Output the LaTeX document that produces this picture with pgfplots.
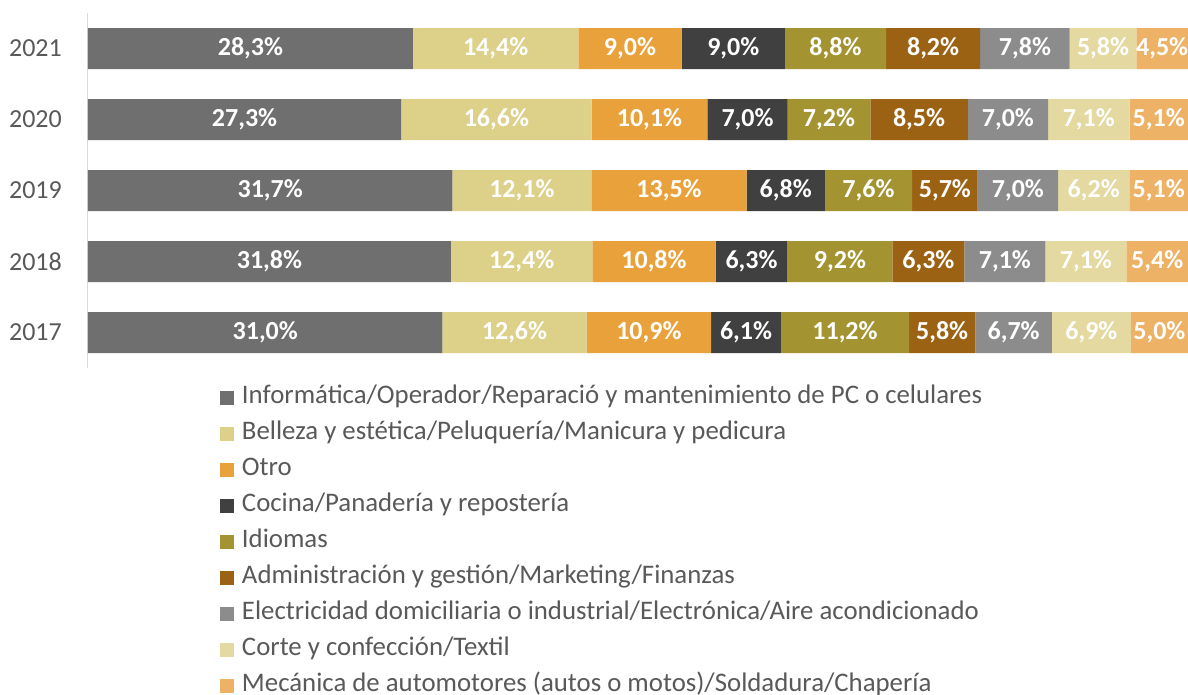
\documentclass[border=0pt]{standalone}
\usepackage{pgfplots}
\pgfplotsset{compat=1.18}
\usepackage{pgfplotstable}
\usepackage{fontspec}
\setmainfont{Carlito}
\definecolor{c1}{HTML}{6F6F6F}
\definecolor{c2}{HTML}{DDD089}
\definecolor{c3}{HTML}{E9A23B}
\definecolor{c4}{HTML}{404040}
\definecolor{c5}{HTML}{A49331}
\definecolor{c6}{HTML}{9C6214}
\definecolor{c7}{HTML}{8C8C8C}
\definecolor{c8}{HTML}{E3D9A1}
\definecolor{c9}{HTML}{EDB266}
\definecolor{txt}{HTML}{595959}
\definecolor{axl}{HTML}{D9D9D9}

\pgfplotstableread{
y a b c d e f g h i
4 28.3 14.4 9.0 9.0 8.8 8.2 7.8 5.8 4.5
3 27.3 16.6 10.1 7.0 7.2 8.5 7.0 7.1 5.1
2 31.7 12.1 13.5 6.8 7.6 5.7 7.0 6.2 5.1
1 31.8 12.4 10.8 6.3 9.2 6.3 7.1 7.1 5.4
0 31.0 12.6 10.9 6.1 11.2 5.8 6.7 6.9 5.0
}\data
\pgfplotstablecreatecol[expr={\thisrow{a}+\thisrow{b}+\thisrow{c}+\thisrow{d}+\thisrow{e}+\thisrow{f}+\thisrow{g}+\thisrow{h}+\thisrow{i}}]{tot}{\data}

\newcommand{\bigf}{\fontsize{26pt}{31pt}\selectfont}
\newcommand{\legf}{\fontsize{26.8pt}{31pt}\selectfont}

\pgfplotsset{
  common/.style={scale only axis, width=1100pt, height=355pt,
    xmin=0, xmax=100, ymin=-0.5, ymax=4.5, enlargelimits=false,
    at={(88pt,326pt)}, anchor=south west},
  lab/.style={only marks, mark=none, point meta=explicit,
    nodes near coords={\pgfmathprintnumber{\pgfplotspointmeta}\%},
    every node near coord/.append style={anchor=center, text=white, font=\bfseries\bigf, inner sep=0pt}},
}

\begin{document}
\begin{tikzpicture}
\path[use as bounding box] (0,0) rectangle (1188pt,694pt);
\begin{axis}[common,
  xbar stacked, bar width=41pt,
  axis x line=none, axis y line*=left,
  y axis line style={draw=axl, line width=1pt},
  xtick=\empty,
  ytick={0,1,2,3,4}, yticklabels={2017,2018,2019,2020,2021},
  ytick style={draw=none},
  yticklabel style={font=\bigf, text=txt, inner sep=0pt, xshift=-26pt},
  /pgf/number format/assume math mode=true,
  legend cell align=left,
  legend image code/.code={\fill[#1] (0pt,-7pt) rectangle (14pt,7pt);},
  legend style={at={(axis description cs:0.12,-0.05)}, anchor=north west,
    draw=none, inner sep=0pt, outer sep=0pt, row sep=12pt,
    font=\legf, text=txt,
    nodes={inner sep=0pt, text height=18pt, text depth=6pt},
    /tikz/every odd column/.append style={column sep=8pt}},
]
\addplot[fill=c1, draw=none] table[x expr={\thisrow{a}*100/\thisrow{tot}}, y=y]{\data};
\addplot[fill=c2, draw=none] table[x expr={\thisrow{b}*100/\thisrow{tot}}, y=y]{\data};
\addplot[fill=c3, draw=none] table[x expr={\thisrow{c}*100/\thisrow{tot}}, y=y]{\data};
\addplot[fill=c4, draw=none] table[x expr={\thisrow{d}*100/\thisrow{tot}}, y=y]{\data};
\addplot[fill=c5, draw=none] table[x expr={\thisrow{e}*100/\thisrow{tot}}, y=y]{\data};
\addplot[fill=c6, draw=none] table[x expr={\thisrow{f}*100/\thisrow{tot}}, y=y]{\data};
\addplot[fill=c7, draw=none] table[x expr={\thisrow{g}*100/\thisrow{tot}}, y=y]{\data};
\addplot[fill=c8, draw=none] table[x expr={\thisrow{h}*100/\thisrow{tot}}, y=y]{\data};
\addplot[fill=c9, draw=none] table[x expr={\thisrow{i}*100/\thisrow{tot}}, y=y]{\data};
\legend{Informática/Operador/Reparació y mantenimiento de PC o celulares,
Belleza y estética/Peluquería/Manicura y pedicura,
Otro,
Cocina/Panadería y repostería,
Idiomas,
Administración y gestión/Marketing/Finanzas,
Electricidad domiciliaria o industrial/Electrónica/Aire acondicionado,
Corte y confección/Textil,
Mecánica de automotores (autos o motos)/Soldadura/Chapería}
\end{axis}
\begin{axis}[common, hide axis, clip=false,
  /pgf/number format/.cd, use comma, fixed, fixed zerofill, precision=1, assume math mode=true,
  /pgfplots/.cd,
]
\addplot[lab] table[x expr={(\thisrow{a}/2)*100/\thisrow{tot}}, y=y, meta=a]{\data};
\addplot[lab] table[x expr={(\thisrow{a}+\thisrow{b}/2)*100/\thisrow{tot}}, y=y, meta=b]{\data};
\addplot[lab] table[x expr={(\thisrow{a}+\thisrow{b}+\thisrow{c}/2)*100/\thisrow{tot}}, y=y, meta=c]{\data};
\addplot[lab] table[x expr={(\thisrow{a}+\thisrow{b}+\thisrow{c}+\thisrow{d}/2)*100/\thisrow{tot}}, y=y, meta=d]{\data};
\addplot[lab] table[x expr={(\thisrow{a}+\thisrow{b}+\thisrow{c}+\thisrow{d}+\thisrow{e}/2)*100/\thisrow{tot}}, y=y, meta=e]{\data};
\addplot[lab] table[x expr={(\thisrow{a}+\thisrow{b}+\thisrow{c}+\thisrow{d}+\thisrow{e}+\thisrow{f}/2)*100/\thisrow{tot}}, y=y, meta=f]{\data};
\addplot[lab] table[x expr={(\thisrow{a}+\thisrow{b}+\thisrow{c}+\thisrow{d}+\thisrow{e}+\thisrow{f}+\thisrow{g}/2)*100/\thisrow{tot}}, y=y, meta=g]{\data};
\addplot[lab] table[x expr={(\thisrow{a}+\thisrow{b}+\thisrow{c}+\thisrow{d}+\thisrow{e}+\thisrow{f}+\thisrow{g}+\thisrow{h}/2)*100/\thisrow{tot}}, y=y, meta=h]{\data};
\addplot[lab] table[x expr={(\thisrow{a}+\thisrow{b}+\thisrow{c}+\thisrow{d}+\thisrow{e}+\thisrow{f}+\thisrow{g}+\thisrow{h}+\thisrow{i}/2)*100/\thisrow{tot}}, y=y, meta=i]{\data};
\end{axis}
\end{tikzpicture}
\end{document}
